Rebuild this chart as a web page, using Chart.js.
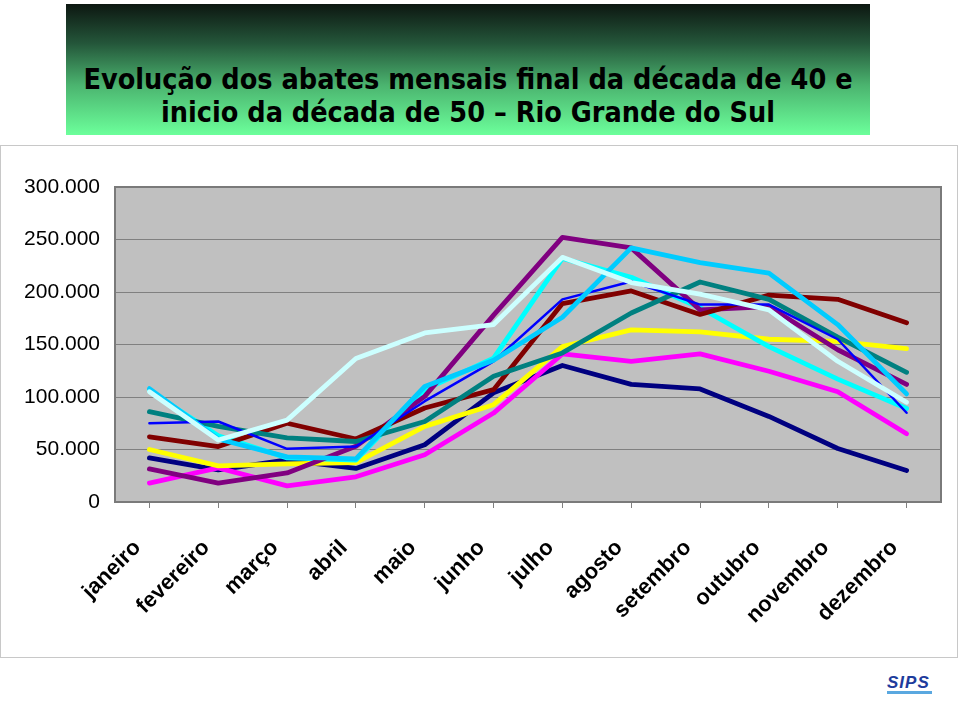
<!DOCTYPE html>
<html>
<head>
<meta charset="utf-8">
<script src="https://cdn.jsdelivr.net/npm/chart.js@4.4.0/dist/chart.umd.min.js"></script>
<style>
    body { margin: 0; background: #fff; width: 960px; height: 701px; position: relative; overflow: hidden; }
    #title-box {
        position: absolute; left: 66px; top: 4px; width: 804px; height: 131px;
        background: linear-gradient(to bottom, #0d1711 0%, #24563a 30%, #4bb46f 62%, #6cff9b 100%);
        font-family: 'DejaVu Sans Condensed', 'DejaVu Sans', sans-serif;
        font-weight: bold; font-size: 28.5px; color: #000; text-align: center;
    }
    #title-box .l1 { position: absolute; left: 0; right: 0; top: 59px; line-height: 33px; }
    #frame {
        position: absolute; left: 0; top: 145px; width: 958px; height: 513px;
        box-sizing: border-box; border: 1px solid #c8c8c8;
    }
    #chart-wrap { position: absolute; left: 1px; top: 146px; width: 956px; height: 511px; }
    #logo {
        position: absolute; left: 887px; top: 674px;
        font-family: 'Liberation Sans', Arial, sans-serif; font-weight: bold; font-style: italic;
        font-size: 17px; color: #1e3c9c; letter-spacing: 1px;
        border-bottom: 3px solid #5aa8e0; line-height: 17px; padding-right: 2px;
    }
</style>
</head>
<body>
<div id="title-box"><div class="l1">Evolução dos abates mensais final da década de 40 e<br>inicio da década de 50 – Rio Grande do Sul</div></div>
<div id="frame"></div>
<div id="chart-wrap"><canvas id="abates-chart" width="956" height="511"></canvas></div>
<div id="logo">SIPS</div>

<script>
// months on the x axis
const months = ['janeiro', 'fevereiro', 'março', 'abril', 'maio', 'junho',
    'julho', 'agosto', 'setembro', 'outubro', 'novembro', 'dezembro'];

// monthly slaughter counts (head)
const navySeries      = [42000, 30600, 40000, 32000, 54500, 104000, 130000, 112000, 107700, 81500, 51000, 30000];
const magentaSeries   = [18000, 32500, 15300, 24000, 45000, 84700, 141000, 134000, 141000, 124500, 105000, 65000];
const yellowSeries    = [50000, 34400, 36300, 37600, 72000, 92700, 148000, 164000, 162000, 155000, 153000, 146000];
const cyanSeries      = [106000, 63000, 42000, 40000, 107000, 137000, 232000, 214000, 185000, 148000, 117000, 89000];
const purpleSeries    = [31500, 18000, 27700, 53000, 100600, 178000, 252000, 242000, 183000, 186000, 145000, 112000];
const maroonSeries    = [62000, 52800, 75000, 60000, 89500, 107000, 189000, 201000, 178600, 197000, 193000, 170700];
const tealSeries      = [86000, 72000, 61000, 57600, 76700, 119700, 142000, 180000, 209500, 193000, 157000, 123500];
const blueSeries      = [75000, 76700, 50600, 52800, 96000, 134000, 193000, 210000, 188000, 188000, 155000, 85000];
const skyBlueSeries   = [108000, 60000, 43000, 41000, 110000, 135000, 176000, 242000, 228000, 218000, 169000, 103000];
const lightCyanSeries = [105000, 59000, 78000, 136600, 161000, 169000, 233000, 209000, 198000, 183000, 134000, 95000];

// y axis ticks
const yTicks = [0, 50000, 100000, 150000, 200000, 250000, 300000];

/* grey plot area with a darker frame */
const plotBackground = {
    id: 'plotBackground',
    beforeDraw(chart) {
        const { ctx, chartArea: a } = chart;
        ctx.save();
        ctx.fillStyle = '#c0c0c0';
        ctx.fillRect(a.left, a.top, a.right - a.left, a.bottom - a.top);
        ctx.restore();
    },
    afterDraw(chart) {
        const { ctx, chartArea: a } = chart;
        ctx.save();
        ctx.strokeStyle = '#7a7a7a';
        ctx.lineWidth = 2;
        ctx.strokeRect(a.left, a.top, a.right - a.left, a.bottom - a.top);
        ctx.restore();
    }
};

function fmtThousands(v) {
    return String(v).replace(/\B(?=(\d{3})+(?!\d))/g, '.');
}

function line(data, color, width) {
    return {
        data,
        borderColor: color,
        backgroundColor: color,
        borderWidth: width,
        pointRadius: 0,
        tension: 0,
        borderCapStyle: 'round',
        borderJoinStyle: 'round'
    };
}

document.addEventListener('DOMContentLoaded', () => {
    const ctx = document.getElementById('abates-chart');

    const datasets = [
        line(navySeries, '#000080', 4.8),
        line(magentaSeries, '#ff00ff', 4.8),
        line(yellowSeries, '#ffff00', 4.8),
        line(cyanSeries, '#00ffff', 4.8),
        line(purpleSeries, '#800080', 4.8),
        line(maroonSeries, '#800000', 4.8),
        line(tealSeries, '#008080', 4.8),
        line(blueSeries, '#0000ff', 2.5),
        line(skyBlueSeries, '#00ccff', 4.8),
        line(lightCyanSeries, '#ccffff', 4.8)
    ];
    // later series sit on top, like the spreadsheet
    datasets.forEach((d, i) => { d.order = datasets.length - i; });

    new Chart(ctx, {
        type: 'line',
        data: { labels: months, datasets },
        plugins: [plotBackground],
        options: {
            responsive: false,
            animation: false,
            layout: { padding: { top: 41, right: 16, left: 0, bottom: 0 } },
            plugins: { legend: { display: false }, tooltip: { enabled: false } },
            scales: {
                x: {
                    offset: true,
                    grid: { drawOnChartArea: false, drawTicks: true, tickLength: 6, color: '#808080' },
                    border: { display: false },
                    ticks: {
                        autoSkip: false,
                        minRotation: 45,
                        maxRotation: 45,
                        padding: 27,
                        labelOffset: -12,
                        color: '#000',
                        font: { family: "'Liberation Sans', Arial, sans-serif", size: 22, weight: 'bold' }
                    },
                    afterFit: (scale) => { scale.height = 155; }
                },
                y: {
                    min: 0,
                    max: 300000,
                    afterBuildTicks: (scale) => { scale.ticks = yTicks.map(v => ({ value: v })); },
                    grid: { color: '#808080', lineWidth: 1, drawTicks: false },
                    border: { display: false },
                    ticks: {
                        padding: 15,
                        color: '#000',
                        font: { family: "'Liberation Sans', Arial, sans-serif", size: 21 },
                        callback: v => fmtThousands(v)
                    },
                    afterFit: (scale) => { scale.width = 114; }
                }
            }
        }
    });
});
</script>
</body>
</html>
